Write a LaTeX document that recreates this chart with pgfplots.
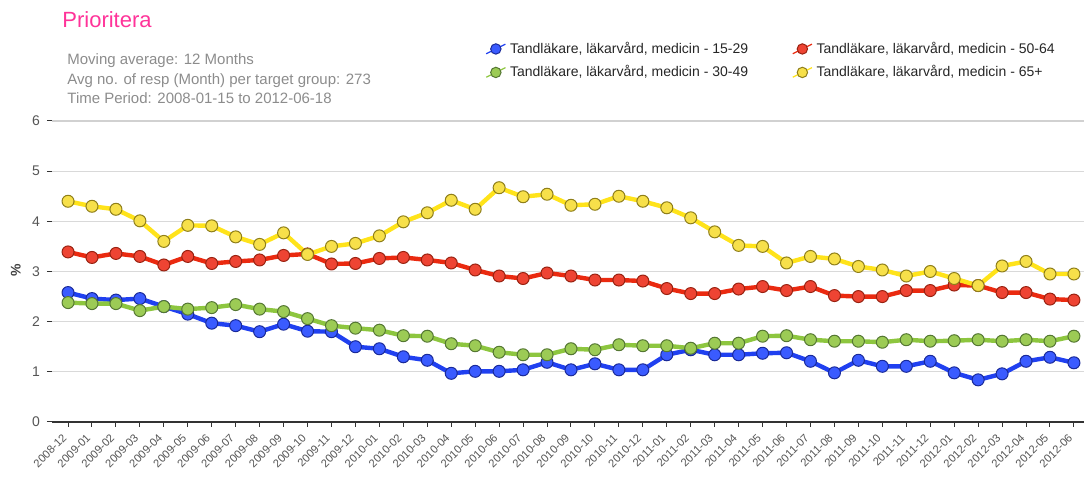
\documentclass[border=0pt]{standalone}
\usepackage{pgfplots}
\pgfplotsset{compat=1.18}
\usepackage{pgfplotstable}
\usepackage{fontspec}
\setmainfont{Liberation Sans}

\definecolor{cblue}{HTML}{2040F0}
\definecolor{cbluef}{HTML}{3A5BFF}
\definecolor{cblued}{HTML}{1A2A99}
\definecolor{cred}{HTML}{EA2A10}
\definecolor{credf}{HTML}{EE4433}
\definecolor{credd}{HTML}{992211}
\definecolor{cgreen}{HTML}{8DC63F}
\definecolor{cgreenf}{HTML}{9CCB55}
\definecolor{cgreend}{HTML}{557733}
\definecolor{cyellow}{HTML}{FFE31A}
\definecolor{cyellowf}{HTML}{F7E04A}
\definecolor{cyellowd}{HTML}{8F7F1A}
\definecolor{ctitle}{HTML}{FF3399}
\definecolor{csub}{HTML}{8C8C8C}
\definecolor{ctick}{HTML}{555555}

% x = month index (0 = 2008-12 ... 42 = 2012-06)
\pgfplotstableread{
x  a     b     c     d
0  2.58  2.38  3.39  4.40
1  2.46  2.36  3.28  4.30
2  2.43  2.36  3.36  4.24
3  2.46  2.22  3.30  4.01
4  2.30  2.30  3.13  3.60
5  2.15  2.25  3.30  3.92
6  1.97  2.28  3.16  3.91
7  1.92  2.34  3.20  3.69
8  1.80  2.25  3.23  3.54
9  1.95  2.20  3.32  3.77
10 1.81  2.06  3.35  3.34
11 1.80  1.92  3.15  3.50
12 1.50  1.87  3.16  3.56
13 1.46  1.83  3.26  3.71
14 1.30  1.72  3.28  3.99
15 1.23  1.71  3.23  4.17
16 0.97  1.56  3.17  4.42
17 1.01  1.52  3.03  4.24
18 1.01  1.39  2.91  4.67
19 1.04  1.34  2.86  4.49
20 1.19  1.34  2.97  4.54
21 1.04  1.46  2.91  4.32
22 1.16  1.44  2.83  4.34
23 1.04  1.54  2.83  4.50
24 1.04  1.52  2.81  4.40
25 1.34  1.52  2.66  4.27
26 1.44  1.47  2.56  4.07
27 1.34  1.57  2.56  3.79
28 1.34  1.57  2.65  3.52
29 1.37  1.71  2.70  3.50
30 1.38  1.72  2.62  3.17
31 1.21  1.64  2.70  3.30
32 0.98  1.61  2.52  3.25
33 1.23  1.61  2.50  3.10
34 1.11  1.59  2.50  3.03
35 1.11  1.64  2.62  2.91
36 1.21  1.61  2.62  3.00
37 0.98  1.62  2.73  2.86
38 0.84  1.64  2.72  2.72
39 0.96  1.61  2.58  3.11
40 1.21  1.64  2.58  3.20
41 1.29  1.61  2.45  2.95
42 1.18  1.71  2.43  2.95
}\data

\begin{document}
\begin{tikzpicture}
\begin{axis}[
    name=ax,
    scale only axis,
    width=516pt, height=150.5pt,
    xmin=-0.67, xmax=42.42,
    ymin=0, ymax=6,
    ytick={0,1,2,3,4,5},
    extra y ticks={6},
    extra y tick style={grid style={draw=black!18, line width=1.3pt}},
    xtick=data,
    xticklabels={2008-12,2009-01,2009-02,2009-03,2009-04,2009-05,2009-06,2009-07,2009-08,2009-09,2009-10,2009-11,2009-12,2010-01,2010-02,2010-03,2010-04,2010-05,2010-06,2010-07,2010-08,2010-09,2010-10,2010-11,2010-12,2011-01,2011-02,2011-03,2011-04,2011-05,2011-06,2011-07,2011-08,2011-09,2011-10,2011-11,2011-12,2012-01,2012-02,2012-03,2012-04,2012-05,2012-06},
    xticklabel style={rotate=45, anchor=east, font=\fontsize{5.6}{6}\selectfont, text=ctick, yshift=-2pt, xshift=-1pt},
    yticklabel style={font=\fontsize{7}{8}\selectfont, text=ctick},
    /pgf/number format/assume math mode=true,
    axis x line*=bottom,
    axis y line*=left,
    y axis line style={draw=none},
    x axis line style={draw=black!80, line width=1pt, -},
    tick align=outside,
    major tick length=2.5pt,
    tick style={draw=black!80, line width=0.5pt},
    ymajorgrids=true,
    grid style={draw=black!15, line width=0.6pt},
    ylabel={\textbf{\%}},
    ylabel style={at={(axis description cs:-0.035,0.505)}, anchor=center, font=\fontsize{7}{8}\selectfont, text=black!75},
    clip=false,
    legend columns=2,
    transpose legend,
    legend cell align=left,
    legend style={at={(0.414,1.291)}, anchor=north west, draw=none, fill=none,
        font=\fontsize{7}{8}\selectfont, text=black!85,
        row sep=0.6pt,
        /tikz/every even column/.append style={column sep=20pt}},
    legend image code/.code={
        \draw[mark repeat=2, mark phase=2, #1, line width=0.6pt, mark size=2.6pt]
            plot coordinates {(0pt,-2.4pt) (4.8pt,0pt) (9.6pt,2.4pt)};},
    every axis plot/.append style={line width=2.2pt, mark=*, mark size=3pt},
]
\addplot[color=cblue, mark options={fill=cbluef, draw=cblued, line width=0.5pt}] table[x=x, y=a] {\data};
\addlegendentry{Tandläkare, läkarvård, medicin - 15-29}
\addplot[color=cgreen, mark options={fill=cgreenf, draw=cgreend, line width=0.5pt}] table[x=x, y=b] {\data};
\addlegendentry{Tandläkare, läkarvård, medicin - 30-49}
\addplot[color=cred, mark options={fill=credf, draw=credd, line width=0.5pt}] table[x=x, y=c] {\data};
\addlegendentry{Tandläkare, läkarvård, medicin - 50-64}
\addplot[color=cyellow, mark options={fill=cyellowf, draw=cyellowd, line width=0.5pt}] table[x=x, y=d] {\data};
\addlegendentry{Tandläkare, läkarvård, medicin - 65+}
\end{axis}

\node[anchor=base west, text=ctitle, font=\fontsize{11}{13}\selectfont, inner sep=0pt]
    at ([xshift=5pt, yshift=46.5pt]ax.north west) {Prioritera};
\node[anchor=base west, text=csub, font=\fontsize{7.5}{9.75}\selectfont, inner sep=0pt, align=left]
    at ([xshift=7.5pt, yshift=8.5pt]ax.north west)
    {Moving average: 12 Months\\Avg no. of resp (Month) per target group: 273\\Time Period: 2008-01-15 to 2012-06-18};

\pgfresetboundingbox
\path[use as bounding box] ([xshift=-26pt, yshift=-28.5pt]ax.south west) rectangle ([yshift=60.5pt]ax.north east);
\end{tikzpicture}
\end{document}
